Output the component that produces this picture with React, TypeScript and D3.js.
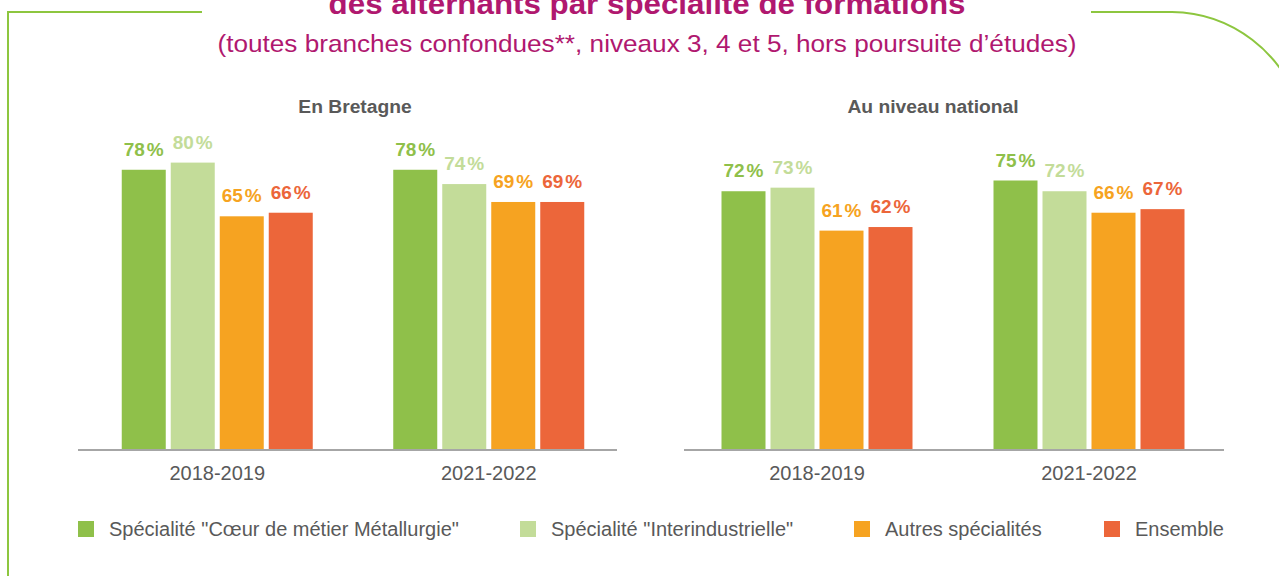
import React from "react";
import * as d3 from "d3";

const categories = ["2018-2019", "2021-2022"];
const seriesNames = [
  'Spécialité "Cœur de métier Métallurgie"',
  'Spécialité "Interindustrielle"',
  "Autres spécialités",
  "Ensemble",
];
const seriesColors = ["#8fc04a", "#c3dc99", "#f6a321", "#ec663a"];

const bretagneCoeurMetier = [78, 78];
const bretagneInterindustrielle = [80, 74];
const bretagneAutres = [65, 69];
const bretagneEnsemble = [66, 69];

const nationalCoeurMetier = [72, 75];
const nationalInterindustrielle = [73, 72];
const nationalAutres = [61, 66];
const nationalEnsemble = [62, 67];

const panelTitles = ["En Bretagne", "Au niveau national"];
const titleText = "des alternants par spécialité de formations";
const subtitleText =
  "(toutes branches confondues**, niveaux 3, 4 et 5, hors poursuite d’études)";

const FONT = "'Liberation Sans', Arial, sans-serif";
const GRAY = "#595959";
const MAGENTA = "#b0186f";
const FRAME = "#8dc63f";

const W = 1279;
const H = 576;
const BASE = 449;

const y = d3.scaleLinear().domain([0, 100]).range([BASE, BASE - 358]);
const inner = d3
  .scaleBand<string>()
  .domain(seriesNames)
  .range([0, 191])
  .paddingInner(0.102);

type Panel = {
  title: string;
  titleX: number;
  range: [number, number];
  axis: [number, number];
  values: number[][];
};

const panels: Panel[] = [
  {
    title: panelTitles[0],
    titleX: 355,
    range: [81.5, 624.5],
    axis: [78, 617],
    values: [bretagneCoeurMetier, bretagneInterindustrielle, bretagneAutres, bretagneEnsemble],
  },
  {
    title: panelTitles[1],
    titleX: 933,
    range: [681, 1225],
    axis: [684, 1224],
    values: [nationalCoeurMetier, nationalInterindustrielle, nationalAutres, nationalEnsemble],
  },
];

const legendX = [78, 520, 854, 1104];

function StretchText({
  x,
  y,
  sx,
  size,
  bold,
  fill,
  children,
}: {
  x: number;
  y: number;
  sx: number;
  size: number;
  bold?: boolean;
  fill: string;
  children: React.ReactNode;
}) {
  return (
    <text
      transform={`translate(${x},${y}) scale(${sx},1)`}
      textAnchor="middle"
      fontFamily={FONT}
      fontWeight={bold ? "bold" : "normal"}
      fontSize={size}
      fill={fill}
    >
      {children}
    </text>
  );
}

function PanelChart({ p }: { p: Panel }) {
  const x0 = d3.scaleBand<string>().domain(categories).range(p.range).padding(0);
  return (
    <g>
      <StretchText x={p.titleX} y={113} sx={1.07} size={18} bold fill={GRAY}>
        {p.title}
      </StretchText>
      {categories.map((c, ci) => {
        const cx = (x0(c) as number) + x0.bandwidth() / 2;
        const gx = cx - 95.5;
        return (
          <g key={c}>
            {seriesNames.map((s, si) => {
              const v = p.values[si][ci];
              const bx = gx + (inner(s) as number);
              const by = y(v);
              return (
                <g key={s}>
                  <rect
                    x={bx}
                    y={by}
                    width={inner.bandwidth()}
                    height={BASE - by}
                    fill={seriesColors[si]}
                  />
                  <text
                    x={bx + inner.bandwidth() / 2}
                    y={by - 14}
                    textAnchor="middle"
                    fontFamily={FONT}
                    fontWeight="bold"
                    fontSize={19}
                    fill={seriesColors[si]}
                  >
                    {v}
                    <tspan dx={2}>%</tspan>
                  </text>
                </g>
              );
            })}
            <text
              x={cx}
              y={480}
              textAnchor="middle"
              fontFamily={FONT}
              fontSize={20}
              fill={GRAY}
            >
              {c}
            </text>
          </g>
        );
      })}
      <line
        x1={p.axis[0]}
        x2={p.axis[1]}
        y1={BASE + 1}
        y2={BASE + 1}
        stroke="#a6a6a6"
        strokeWidth={2}
      />
    </g>
  );
}

export default function App() {
  return (
    <svg
      width={W}
      height={H}
      style={{ position: "absolute", left: 0, top: 0, background: "#fff" }}
    >
      <rect x={0} y={0} width={W} height={H} fill="#fff" />
      <path d="M8,576 L8,12 L202,12" fill="none" stroke={FRAME} strokeWidth={2} />
      <path
        d="M1091,12 L1172,12 A135,135 0 0 1 1300,110"
        fill="none"
        stroke={FRAME}
        strokeWidth={2}
      />
      <StretchText x={647} y={14} sx={1.08} size={29} bold fill={MAGENTA}>
        {titleText}
      </StretchText>
      <StretchText x={647} y={52} sx={1.09} size={24} fill={MAGENTA}>
        {subtitleText}
      </StretchText>
      {panels.map((p) => (
        <PanelChart key={p.title} p={p} />
      ))}
      {seriesNames.map((s, i) => (
        <g key={s}>
          <rect x={legendX[i]} y={521} width={16} height={16} fill={seriesColors[i]} />
          <text
            x={legendX[i] + 31}
            y={536}
            fontFamily={FONT}
            fontSize={20}
            fill={GRAY}
          >
            {s}
          </text>
        </g>
      ))}
    </svg>
  );
}
